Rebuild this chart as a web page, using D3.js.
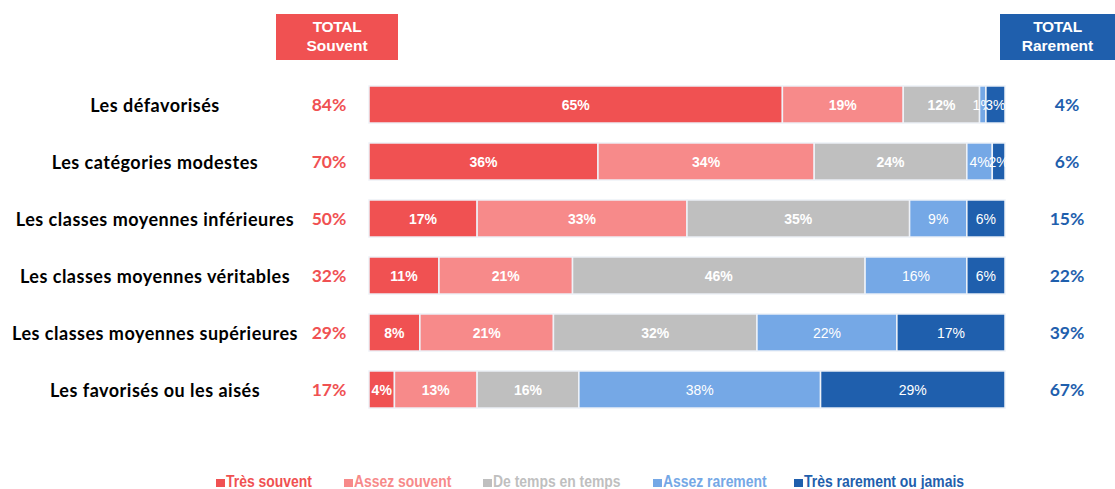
<!DOCTYPE html>
<html lang="fr">
<head>
<meta charset="utf-8">
<script src="https://cdn.jsdelivr.net/npm/d3@7"></script>
<style>
  html, body { margin: 0; padding: 0; background: #fff; }
  svg { display: block; }
</style>
</head>
<body>
<svg id="chart" width="1115" height="489"></svg>
<script>
// Catégories (lignes)
const categories = [
  "Les défavorisés",
  "Les catégories modestes",
  "Les classes moyennes inférieures",
  "Les classes moyennes véritables",
  "Les classes moyennes supérieures",
  "Les favorisés ou les aisés"
];

// Modalités de réponse (séries empilées)
const seriesNames = [
  "Très souvent",
  "Assez souvent",
  "De temps en temps",
  "Assez rarement",
  "Très rarement ou jamais"
];

// Valeurs en % par série, dans l'ordre des catégories
const tresSouvent   = [65, 36, 17, 11,  8,  4];
const assezSouvent  = [19, 34, 33, 21, 21, 13];
const deTempsEnTemps= [12, 24, 35, 46, 32, 16];
const assezRarement = [ 1,  4,  9, 16, 22, 38];
const tresRarement  = [ 3,  2,  6,  6, 17, 29];

// Totaux affichés de part et d'autre
const totalSouvent  = [84, 70, 50, 32, 29, 17];
const totalRarement = [ 4,  6, 15, 22, 39, 67];

const colors = ["#F05152", "#F78A8A", "#BFBFBF", "#75A8E6", "#1F5FAD"];
const boldLabel = [true, true, true, false, false];

const seriesValues = [tresSouvent, assezSouvent, deTempsEnTemps, assezRarement, tresRarement];
const rows = categories.map((c, i) => {
  const r = { category: c };
  seriesNames.forEach((s, k) => { r[s] = seriesValues[k][i]; });
  return r;
});

const svg = d3.select("#chart");

const x = d3.scaleLinear().domain([0, 100]).range([369, 1005]);
const y = d3.scaleBand().domain(categories).range([76, 76 + 57 * 6])
  .paddingInner(0.35).paddingOuter(0.175);

const stacked = d3.stack().keys(seriesNames)(rows);

const labelFont = "Liberation Sans, Arial, sans-serif";

// Barres empilées
const layer = svg.append("g").selectAll("g")
  .data(stacked)
  .join("g")
  .attr("fill", (d, k) => colors[k]);

layer.selectAll("rect")
  .data(d => d.map(p => ({ p, key: d.key })))
  .join("rect")
  .attr("x", d => x(d.p[0]))
  .attr("y", d => y(d.p.data.category))
  .attr("width", d => x(d.p[1]) - x(d.p[0]))
  .attr("height", y.bandwidth())
  .attr("stroke", "#EEF2F8")
  .attr("stroke-width", 1.5);

// Étiquettes des segments
layer.selectAll("text")
  .data((d, k) => d.map(p => ({ p, k })))
  .join("text")
  .attr("x", d => (x(d.p[0]) + x(d.p[1])) / 2)
  .attr("y", d => y(d.p.data.category) + y.bandwidth() / 2)
  .attr("dy", "0.36em")
  .attr("text-anchor", "middle")
  .attr("fill", "#fff")
  .attr("font-family", labelFont)
  .attr("font-size", 14)
  .attr("font-weight", d => boldLabel[d.k] ? "bold" : "normal")
  .text(d => (d.p[1] - d.p[0]) + "%");

// Libellés des catégories
svg.append("g").selectAll("text")
  .data(categories)
  .join("text")
  .attr("x", 155)
  .attr("y", c => y(c) + y.bandwidth() / 2 + 1)
  .attr("dy", "0.35em")
  .attr("text-anchor", "middle")
  .attr("font-family", "Lato, 'Open Sans', sans-serif")
  .attr("font-weight", "bold")
  .attr("font-size", 18)
  .attr("letter-spacing", 0.5)
  .attr("fill", "#000")
  .text(c => c);

// Totaux
svg.append("g").selectAll("text")
  .data(categories)
  .join("text")
  .attr("x", 329)
  .attr("y", c => y(c) + y.bandwidth() / 2)
  .attr("dy", "0.35em")
  .attr("text-anchor", "middle")
  .attr("font-family", "Lato, sans-serif")
  .attr("font-weight", "bold")
  .attr("font-size", 17.5)
  .attr("fill", colors[0])
  .text((c, i) => totalSouvent[i] + "%");

svg.append("g").selectAll("text")
  .data(categories)
  .join("text")
  .attr("x", 1067)
  .attr("y", c => y(c) + y.bandwidth() / 2)
  .attr("dy", "0.35em")
  .attr("text-anchor", "middle")
  .attr("font-family", "Lato, sans-serif")
  .attr("font-weight", "bold")
  .attr("font-size", 17.5)
  .attr("fill", colors[4])
  .text((c, i) => totalRarement[i] + "%");

// En-têtes des totaux
const headers = [
  { x0: 276, x1: 398, color: colors[0], lines: ["TOTAL", "Souvent"] },
  { x0: 1000, x1: 1115, color: colors[4], lines: ["TOTAL", "Rarement"] }
];
const hg = svg.append("g").selectAll("g").data(headers).join("g");
hg.append("rect")
  .attr("x", d => d.x0).attr("y", 14)
  .attr("width", d => d.x1 - d.x0).attr("height", 46)
  .attr("fill", d => d.color);
hg.each(function (d) {
  const g = d3.select(this);
  d.lines.forEach((t, j) => {
    g.append("text")
      .attr("x", (d.x0 + d.x1) / 2)
      .attr("y", 32 + j * 19)
      .attr("text-anchor", "middle")
      .attr("font-family", labelFont)
      .attr("font-weight", "bold")
      .attr("font-size", 15.5)
      .attr("letter-spacing", j === 0 ? -0.3 : 0)
      .attr("fill", "#fff")
      .text(t);
  });
});

// Légende
const legendX = [216, 344, 483, 653, 794];
const lg = svg.append("g").selectAll("g")
  .data(seriesNames)
  .join("g")
  .attr("transform", (d, k) => `translate(${legendX[k]},487)`);
lg.append("rect")
  .attr("x", 0).attr("y", -8)
  .attr("width", 9).attr("height", 8)
  .attr("fill", (d, k) => colors[k]);
lg.append("text")
  .attr("transform", "translate(10,0) scale(0.87,1)")
  .attr("font-family", labelFont)
  .attr("font-weight", "bold")
  .attr("font-size", 16)
  .attr("fill", (d, k) => colors[k])
  .text(d => d);
</script>
</body>
</html>
